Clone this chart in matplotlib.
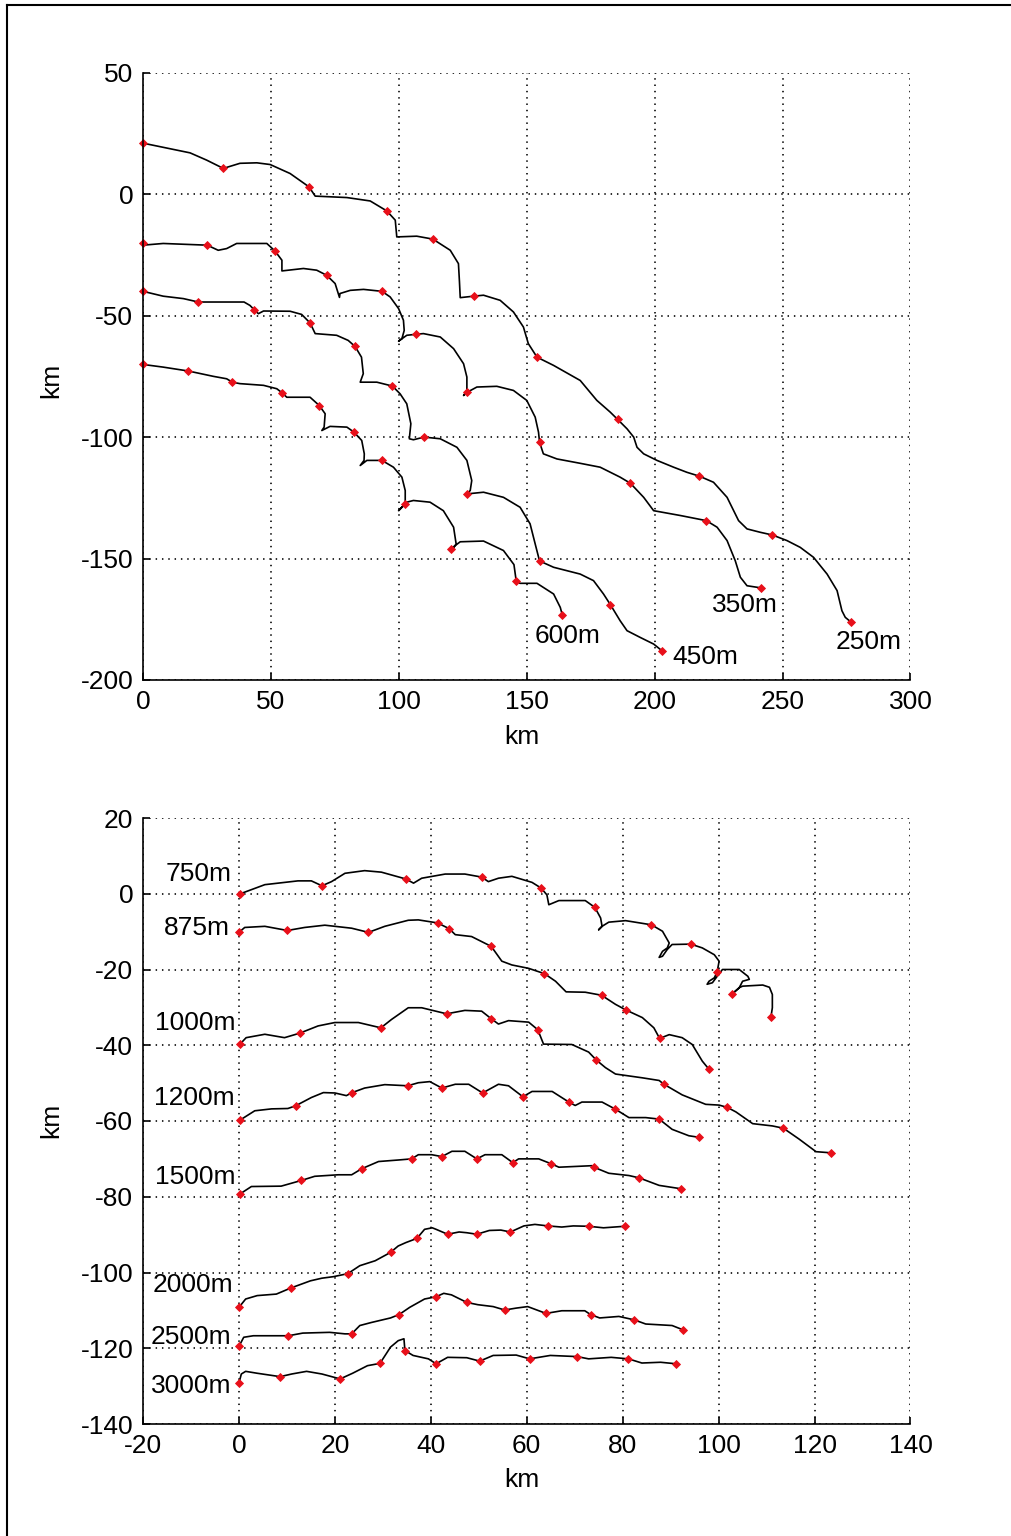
import matplotlib
matplotlib.use("Agg")
import matplotlib.pyplot as plt
from matplotlib.lines import Line2D

plt.rcParams['font.family'] = ['Liberation Sans', 'DejaVu Sans']
plt.rcParams['axes.unicode_minus'] = False

# ---------------- upper panel: shallow tracks (km) ----------------
track_250 = [(0, 21), (18.4, 17.0), (24.9, 14.0), (31.4, 10.6), (37.9, 12.7), (44.5, 12.9), (49.7, 12.2),
             (57.5, 8.5), (64.9, 3.0), (67.3, -0.8), (79.7, -1.4), (88.8, -2.8), (95.3, -6.9), (98.6, -10.7),
             (99.2, -17.6), (107.0, -17.3), (113.3, -18.5), (120.1, -23.1), (123.3, -28.6), (123.7, -36.1),
             (124.0, -42.6), (129.2, -42.0), (133.1, -41.6), (139.6, -43.7), (144.8, -48.5), (148.7, -54.7),
             (150.6, -61.5), (154.0, -67.1), (160.5, -70.5), (170.9, -76.7), (177.4, -84.9), (182.6, -89.7),
             (185.5, -92.7), (189.2, -96.6), (191.8, -100.0), (193.1, -104.2), (195.7, -106.9), (200.9, -109.6),
             (207.4, -112.4), (212.6, -114.5), (217.5, -116.1), (223.0, -118.6), (228.3, -124.8), (232.8, -134.4),
             (236.1, -137.8), (241.3, -139.2), (246.0, -140.3), (251.7, -142.6), (256.9, -145.4), (262.1, -149.5),
             (267.4, -156.4), (271.3, -163.2), (273.2, -171.5), (274.5, -174.2), (276.9, -176.3)]
marks_250 = [(0, 21), (31.4, 10.6), (64.9, 3.0), (95.3, -6.9), (113.3, -18.5), (129.2, -42.0), (154.0, -67.1),
             (185.5, -92.7), (217.5, -116.1), (246.0, -140.3), (276.9, -176.3)]

track_350 = [(0, -21.0), (7.9, -20.3), (25.1, -21.0), (29.4, -23.1), (32.7, -22.4), (36.6, -20.3), (48.4, -20.3),
             (51.6, -23.4), (54.3, -27.2), (54.3, -31.6), (62.7, -30.6), (67.9, -31.3), (71.8, -33.4), (75.1, -36.8),
             (76.8, -42.5), (77.0, -40.9), (81.0, -39.6), (86.2, -39.2), (93.4, -40.0), (96.6, -42.3), (99.9, -47.1),
             (101.8, -51.9), (102.1, -56.1), (101.2, -59.5), (99.9, -60.5), (103.1, -58.1), (106.6, -57.7),
             (109.6, -57.4), (116.2, -58.8), (121.4, -63.6), (125.3, -69.8), (126.6, -75.3), (126.6, -80.8),
             (125.3, -82.9), (126.8, -81.5), (130.5, -79.4), (138.3, -79.1), (144.8, -80.8), (150.0, -84.9),
             (153.3, -91.8), (154.6, -98.0), (155.0, -102.1), (156.5, -106.9), (161.8, -109.0), (170.9, -110.8),
             (178.7, -112.4), (186.5, -116.5), (190.5, -119.0), (195.7, -124.8), (199.6, -130.3), (210.1, -132.3),
             (220.2, -134.4), (224.4, -137.1), (228.3, -142.6), (231.5, -150.9), (233.5, -157.7), (236.1, -161.2),
             (241.7, -162.1)]
marks_350 = [(0, -20.3), (25.1, -21.0), (51.6, -23.4), (71.8, -33.4), (93.4, -40.0), (106.6, -57.7),
             (126.8, -81.5), (155.0, -102.1), (190.5, -119.0), (220.2, -134.4), (241.7, -162.1)]

track_450 = [(0, -40.0), (7.9, -42.0), (15.8, -43.0), (21.6, -44.4), (27.5, -44.4), (39.5, -44.4), (41.8, -45.8),
             (43.4, -47.5), (45.1, -49.2), (47.1, -48.1), (57.5, -48.2), (62.0, -49.5), (65.3, -53.0), (67.3, -57.4),
             (75.7, -58.1), (80.2, -60.2), (82.9, -62.7), (85.4, -67.1), (86.1, -73.9), (84.9, -77.4), (91.4, -77.4),
             (97.5, -79.0), (100.5, -82.2), (103.1, -86.3), (104.7, -94.5), (104.1, -100.7), (105.7, -101.1),
             (109.9, -100.0), (116.2, -100.7), (122.7, -104.2), (126.6, -109.6), (128.5, -117.9), (127.9, -122.0),
             (126.6, -123.4), (133.1, -122.7), (140.9, -124.8), (147.4, -128.9), (151.3, -135.7), (153.3, -144.0),
             (155.0, -151.0), (160.5, -153.6), (170.9, -156.4), (176.1, -159.1), (180.0, -164.6), (182.7, -169.0),
             (186.5, -175.6), (189.2, -179.7), (194.4, -182.5), (199.6, -185.2), (202.9, -188.0)]
marks_450 = [(0, -40.0), (21.6, -44.4), (43.4, -47.5), (65.3, -53.0), (82.9, -62.7), (97.5, -79.0),
             (109.9, -100.0), (126.6, -123.4), (155.0, -151.0), (182.7, -169.0), (202.9, -188.0)]

track_600 = [(0, -70.1), (7.9, -71.2), (17.7, -72.8), (27.5, -75.0), (32.7, -76.0), (34.9, -77.4), (37.9, -78.0),
             (47.1, -78.7), (52.3, -80.1), (54.5, -81.9), (56.2, -83.6), (65.3, -83.6), (68.9, -87.0), (71.2, -90.4),
             (70.8, -95.9), (69.9, -97.3), (73.1, -95.6), (79.7, -95.9), (82.5, -98.0), (85.5, -101.4),
             (86.5, -106.9), (86.4, -109.6), (84.9, -111.7), (87.5, -109.6), (93.4, -109.6), (97.9, -112.4),
             (101.2, -116.5), (102.5, -122.0), (102.5, -127.5), (99.9, -130.3), (103.1, -126.8), (105.7, -126.1),
             (112.2, -126.8), (117.4, -130.3), (121.4, -137.1), (122.4, -144.0), (121.4, -145.6), (120.3, -146.0),
             (124.0, -143.1), (133.1, -142.8), (140.9, -146.7), (145.0, -152.5), (145.9, -159.4), (147.4, -160.2),
             (154.0, -160.2), (160.5, -164.6), (163.1, -170.1), (163.9, -173.2)]
marks_600 = [(0, -70.1), (17.7, -72.8), (34.9, -77.4), (54.5, -81.9), (68.9, -87.0), (82.5, -98.0),
             (93.4, -109.6), (102.5, -127.5), (120.3, -146.0), (145.9, -159.4), (163.9, -173.2)]

# ---------------- lower panel: deep tracks (km) ----------------
track_750 = [(0.3, 0.0), (5.4, 2.4), (12.3, 3.4), (15.1, 3.4), (17.3, 2.1), (19.3, 3.2), (22.1, 5.4), (26.2, 6.1),
             (29.7, 5.7), (34.8, 3.9), (36.4, 2.8), (38.1, 4.1), (43.0, 5.2), (47.1, 5.2), (50.6, 4.4), (52.0, 3.2),
             (54.1, 4.1), (56.9, 4.6), (61.1, 3.0), (63.0, 1.5), (64.2, -0.3), (64.6, -2.9), (66.7, -1.8),
             (72.2, -1.8), (74.2, -3.6), (75.4, -6.4), (75.7, -8.6), (75.0, -9.5), (75.7, -8.6), (77.1, -7.5),
             (80.6, -7.1), (86.0, -8.2), (88.3, -9.9), (89.7, -13.0), (89.3, -14.3), (88.3, -15.2), (87.6, -16.8),
             (88.3, -16.5), (89.3, -14.7), (90.3, -13.4), (94.2, -13.3), (96.6, -14.3), (99.1, -16.1),
             (100.1, -17.8), (99.7, -20.6), (99.1, -22.2), (98.0, -23.1), (97.6, -23.9), (98.7, -23.5),
             (99.7, -21.8), (100.8, -20.0), (104.3, -20.0), (106.1, -21.8), (106.4, -22.6), (105.0, -23.1),
             (104.3, -24.8), (102.7, -26.6), (104.3, -24.8), (105.0, -24.4), (109.2, -24.1), (110.6, -24.7),
             (111.2, -26.6), (111.2, -30.1), (110.9, -32.6)]
marks_750 = [(0.3, 0.0), (17.3, 2.1), (34.8, 3.9), (50.6, 4.4), (63.0, 1.5), (74.2, -3.6), (86.0, -8.2),
             (94.2, -13.3), (99.7, -20.6), (102.7, -26.6), (110.9, -32.6)]

track_875 = [(0, -10.2), (1.2, -8.9), (5.4, -8.6), (10.1, -9.7), (13.7, -8.9), (17.9, -8.3), (23.5, -9.1),
             (27.0, -10.2), (30.4, -8.6), (35.3, -7.0), (37.4, -6.9), (41.4, -7.7), (43.8, -9.2), (45.1, -10.8),
             (48.5, -11.3), (52.6, -13.9), (54.8, -17.8), (56.9, -18.8), (60.4, -19.7), (63.7, -21.1), (66.0, -23.1),
             (68.2, -25.9), (72.2, -26.0), (75.6, -26.8), (78.5, -29.2), (80.7, -30.7), (84.1, -32.7), (86.5, -35.4),
             (87.7, -38.2), (89.7, -37.2), (92.4, -38.0), (94.5, -39.8), (96.6, -44.2), (97.9, -46.2)]
marks_875 = [(0, -10.2), (10.1, -9.7), (27.0, -10.2), (41.4, -7.7), (43.8, -9.2), (52.6, -13.9), (63.7, -21.1),
             (75.6, -26.8), (80.7, -30.7), (87.7, -38.2), (97.9, -46.2)]

track_1000 = [(0.3, -39.6), (1.5, -38.0), (5.4, -37.1), (9.5, -38.0), (12.7, -36.8), (16.5, -34.9), (20.0, -34.0),
              (24.9, -34.0), (29.6, -35.4), (31.8, -33.2), (35.3, -30.1), (38.1, -30.1), (43.3, -31.7),
              (47.1, -30.8), (50.6, -31.0), (52.6, -33.0), (54.1, -34.4), (56.2, -33.5), (60.4, -33.9),
              (62.3, -35.9), (63.5, -39.7), (69.4, -39.8), (72.9, -41.8), (74.5, -43.9), (76.4, -45.9),
              (78.5, -47.6), (84.1, -48.6), (87.6, -49.3), (88.6, -50.3), (92.4, -53.1), (97.3, -55.6),
              (100.1, -55.8), (101.8, -56.4), (103.6, -57.6), (107.1, -60.7), (111.2, -61.3), (113.5, -61.9),
              (116.8, -64.8), (120.3, -68.1), (123.4, -68.4)]
marks_1000 = [(0.3, -39.6), (12.7, -36.8), (29.6, -35.4), (43.3, -31.7), (52.6, -33.0), (62.3, -35.9),
              (74.5, -43.9), (88.6, -50.3), (101.8, -56.4), (113.5, -61.9), (123.4, -68.4)]

track_1200 = [(0.3, -59.7), (3.3, -57.3), (6.8, -56.8), (10.2, -56.7), (11.8, -56.0), (15.1, -53.8), (17.6, -52.5),
              (20.0, -52.6), (22.4, -53.3), (23.6, -52.5), (26.2, -51.3), (30.4, -50.4), (35.2, -50.7),
              (37.4, -49.9), (39.8, -49.6), (42.3, -51.3), (45.1, -50.3), (47.9, -50.3), (50.8, -52.6),
              (54.1, -50.3), (56.2, -50.7), (59.2, -53.6), (61.1, -52.2), (65.3, -52.2), (68.9, -55.1),
              (70.1, -55.9), (71.5, -55.0), (75.7, -55.0), (78.5, -56.9), (81.3, -59.1), (84.8, -59.1),
              (87.6, -59.5), (90.3, -62.2), (93.8, -63.9), (95.9, -64.3)]
marks_1200 = [(0.3, -59.7), (11.8, -56.0), (23.6, -52.5), (35.2, -50.7), (42.3, -51.3), (50.8, -52.6),
              (59.2, -53.6), (68.9, -55.1), (78.5, -56.9), (87.6, -59.5), (95.9, -64.3)]

track_1500 = [(0.3, -79.2), (2.6, -77.3), (8.8, -77.2), (13.0, -75.7), (15.8, -74.6), (20.7, -74.2), (23.5, -74.2),
              (25.6, -72.6), (29.1, -70.7), (33.2, -70.3), (36.0, -70.0), (37.4, -68.9), (40.2, -68.9),
              (42.3, -69.4), (44.4, -68.0), (47.1, -68.0), (49.6, -70.0), (51.3, -68.9), (54.8, -68.9),
              (57.1, -71.0), (58.3, -70.0), (62.5, -70.0), (65.1, -71.3), (66.7, -72.2), (73.6, -71.8),
              (74.0, -72.2), (77.1, -73.8), (81.3, -74.4), (83.4, -75.0), (87.6, -77.0), (92.2, -77.9)]
marks_1500 = [(0.3, -79.2), (13.0, -75.7), (25.6, -72.6), (36.0, -70.0), (42.3, -69.4), (49.6, -70.0),
              (57.1, -71.0), (65.1, -71.3), (74.0, -72.2), (83.4, -75.0), (92.2, -77.9)]

track_2000 = [(0, -109.2), (1.4, -107.0), (3.8, -106.1), (7.8, -105.7), (10.8, -104.1), (14.9, -102.2),
              (17.3, -101.5), (19.7, -101.1), (22.7, -100.3), (25.2, -98.2), (28.4, -96.9), (31.6, -94.7),
              (33.2, -93.0), (34.8, -92.1), (37.1, -91.0), (38.7, -88.6), (40.3, -88.2), (41.1, -88.6),
              (43.5, -89.9), (45.9, -89.3), (47.5, -89.5), (49.6, -89.9), (52.2, -88.9), (54.6, -88.8),
              (56.6, -89.3), (59.4, -87.7), (61.7, -87.3), (64.4, -87.7), (67.3, -88.0), (69.7, -87.7),
              (72.9, -87.8), (76.0, -88.2), (80.4, -87.8)]
marks_2000 = [(0, -109.2), (10.8, -104.1), (22.7, -100.3), (31.6, -94.7), (37.1, -91.0), (43.5, -89.9),
              (49.6, -89.9), (56.6, -89.3), (64.4, -87.7), (72.9, -87.8), (80.4, -87.8)]

track_2500 = [(0, -119.5), (1.0, -117.1), (3.0, -116.7), (7.8, -116.7), (10.3, -116.7), (13.3, -116.0),
              (18.9, -115.8), (22.1, -116.2), (23.5, -116.2), (25.2, -114.0), (27.6, -113.2), (31.6, -112.0),
              (33.4, -111.1), (35.6, -109.2), (38.7, -107.0), (41.1, -106.4), (42.7, -105.5), (44.3, -105.9),
              (47.5, -107.9), (49.8, -108.5), (53.0, -109.0), (55.4, -109.9), (57.8, -109.4), (60.2, -109.0),
              (64.0, -110.8), (67.3, -110.1), (72.1, -110.1), (73.3, -111.1), (75.2, -112.0), (79.2, -111.6),
              (82.4, -112.5), (84.8, -113.6), (90.3, -114.0), (92.5, -115.1)]
marks_2500 = [(0, -119.5), (10.3, -116.7), (23.5, -116.2), (33.4, -111.1), (41.1, -106.4), (47.5, -107.9),
              (55.4, -109.9), (64.0, -110.8), (73.3, -111.1), (82.4, -112.5), (92.5, -115.1)]

track_3000 = [(0, -129.2), (0.5, -126.8), (1.4, -126.1), (3.8, -126.6), (8.6, -127.5), (11.0, -126.8),
              (14.1, -126.1), (17.3, -126.8), (21.1, -128.1), (23.7, -126.6), (26.8, -124.6), (29.4, -124.0),
              (31.6, -119.7), (33.2, -118.0), (34.4, -117.5), (34.6, -120.6), (36.3, -121.9), (39.5, -122.8),
              (41.1, -124.1), (43.5, -122.4), (47.5, -122.5), (50.2, -123.4), (53.0, -121.9), (57.8, -121.8),
              (60.6, -122.8), (64.9, -121.9), (70.5, -122.2), (72.9, -122.8), (77.6, -122.4), (81.2, -122.8),
              (84.0, -123.9), (87.9, -123.7), (91.1, -124.1)]
marks_3000 = [(0, -129.2), (8.6, -127.5), (21.1, -128.1), (29.4, -124.0), (34.6, -120.6), (41.1, -124.1),
              (50.2, -123.4), (60.6, -122.8), (70.5, -122.2), (81.2, -122.8), (91.1, -124.1)]

top_ticks_x = [0, 50, 100, 150, 200, 250, 300]
top_ticks_y = [-200, -150, -100, -50, 0, 50]
bot_ticks_x = [-20, 0, 20, 40, 60, 80, 100, 120, 140]
bot_ticks_y = [-140, -120, -100, -80, -60, -40, -20, 0, 20]

top_tracks = [("250m", track_250, marks_250), ("350m", track_350, marks_350),
              ("450m", track_450, marks_450), ("600m", track_600, marks_600)]
bot_tracks = [("750m", track_750, marks_750), ("875m", track_875, marks_875),
              ("1000m", track_1000, marks_1000), ("1200m", track_1200, marks_1200),
              ("1500m", track_1500, marks_1500), ("2000m", track_2000, marks_2000),
              ("2500m", track_2500, marks_2500), ("3000m", track_3000, marks_3000)]

# where each depth name is written (data coords, centred)
top_label_pos = {"250m": (283.5, -184.5), "350m": (235.4, -169.0),
                 "450m": (219.8, -190.5), "600m": (165.8, -182.0)}
bot_label_pos = {"750m": (-8.5, 5.1), "875m": (-8.7, -9.1), "1000m": (-9.2, -34.1),
                 "1200m": (-9.2, -53.9), "1500m": (-9.2, -74.9), "2000m": (-9.6, -103.4),
                 "2500m": (-10.0, -117.0), "3000m": (-10.0, -130.0)}

W, H = 1012, 1536
FS = 19

fig = plt.figure(figsize=(W / 100, H / 100), dpi=100)
fig.patch.set_facecolor('white')


def pix_rect(left, top, right, bottom):
    return [left / W, 1 - bottom / H, (right - left) / W, (bottom - top) / H]


ax1 = fig.add_axes(pix_rect(143, 72.7, 910.5, 680))
ax2 = fig.add_axes(pix_rect(143, 818, 910.5, 1424))


def style(ax, xlim, ylim, xt, yt):
    ax.set_xlim(xlim)
    ax.set_ylim(ylim)
    ax.set_xticks(xt)
    ax.set_yticks(yt)
    ax.spines['top'].set_visible(False)
    ax.spines['right'].set_visible(False)
    for s in ('left', 'bottom'):
        ax.spines[s].set_linewidth(1.2)
        ax.spines[s].set_zorder(5)
    ax.tick_params(direction='in', length=5, width=1.2, labelsize=FS, pad=7,
                   top=False, right=False)
    ax.grid(True, color='0.1', linestyle=(0, (0.8, 2.7)), linewidth=1.3)
    ax.set_axisbelow(True)


def draw(ax, tracks, label_pos):
    for name, track, marks in tracks:
        xs = [p[0] for p in track]
        ys = [p[1] for p in track]
        ax.plot(xs, ys, color='black', linewidth=1.2, zorder=3)
        mx = [p[0] for p in marks]
        my = [p[1] for p in marks]
        ax.plot(mx, my, linestyle='none', marker='D', markersize=4.4,
                markerfacecolor='#e8101a', markeredgecolor='#e8101a',
                markeredgewidth=0.6, zorder=4, clip_on=False)
        lx, ly = label_pos[name]
        ax.text(lx, ly, name, fontsize=FS, ha='center', va='center', zorder=6)


style(ax1, (0, 300), (-200, 50), top_ticks_x, top_ticks_y)
style(ax2, (-20, 140), (-140, 20), bot_ticks_x, bot_ticks_y)
draw(ax1, top_tracks, top_label_pos)
draw(ax2, bot_tracks, bot_label_pos)

# axis titles
fig.text(522 / W, 1 - 737 / H, "km", fontsize=FS, ha='center', va='center')
fig.text(51 / W, 1 - 380 / H, "km", fontsize=FS, ha='center', va='center', rotation=90)
fig.text(522 / W, 1 - 1480 / H, "km", fontsize=FS, ha='center', va='center')
fig.text(51 / W, 1 - 1120 / H, "km", fontsize=FS, ha='center', va='center', rotation=90)

# frame around the figure
fig.add_artist(Line2D([7.5 / W, 7.5 / W], [0, 1 - 5 / H], transform=fig.transFigure,
                      color='black', linewidth=1.5))
fig.add_artist(Line2D([7.5 / W, 1], [1 - 5 / H, 1 - 5 / H], transform=fig.transFigure,
                      color='black', linewidth=1.5))

fig.savefig("out.png", dpi=100, facecolor='white')
